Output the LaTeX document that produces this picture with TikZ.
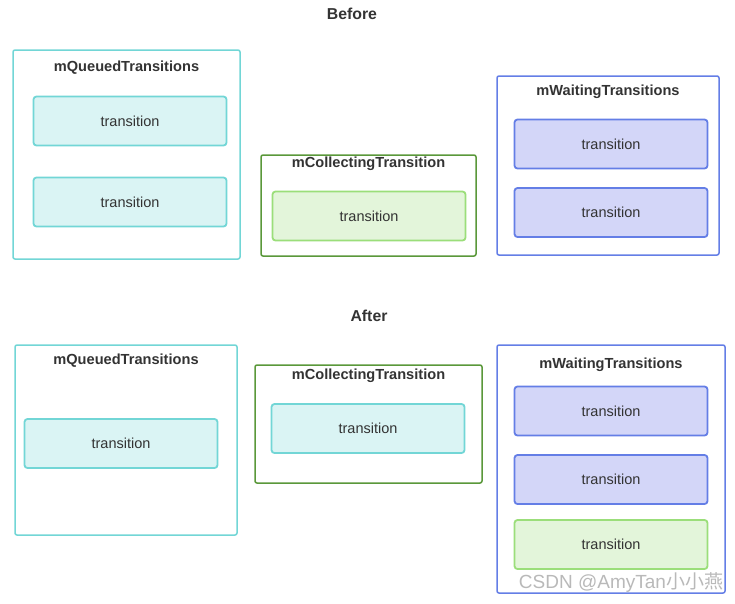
\documentclass[tikz,border=0pt]{standalone}
\usepackage{fontspec}
\setmainfont{Liberation Sans}
\newfontfamily\cjk{Noto Sans CJK SC}
\definecolor{tealline}{RGB}{114,214,214}
\definecolor{tealfill}{RGB}{218,244,244}
\definecolor{greenouter}{RGB}{90,152,58}
\definecolor{greenline}{RGB}{155,222,122}
\definecolor{greenfill}{RGB}{227,245,218}
\definecolor{blueline}{RGB}{100,126,230}
\definecolor{bluefill}{RGB}{211,214,248}
\definecolor{txt}{RGB}{51,51,51}
\tikzset{
  holder/.style={draw, rounded corners=2pt, line width=1.5pt, fill=white, inner sep=0pt},
  item/.style={draw, rounded corners=3pt, line width=1.8pt, inner sep=0pt,
    minimum width=193pt, minimum height=49pt, text=txt, font=\fontsize{14.5}{16}\selectfont},
  heading/.style={text=txt, font=\fontsize{14.6}{17}\selectfont\bfseries, inner sep=0pt},
  tealitem/.style={item, draw=tealline, fill=tealfill},
  greenitem/.style={item, draw=greenline, fill=greenfill},
  blueitem/.style={item, draw=blueline, fill=bluefill},
}
\begin{document}
\begin{tikzpicture}[x=1pt, y=-1pt]
\useasboundingbox (0,0) rectangle (735,603);

% before
\node[heading, font=\fontsize{15.8}{18}\selectfont\bfseries] (before) at (352,13.5) {Before};

\node[holder, draw=tealline, minimum width=227pt, minimum height=209pt] (queuedA) at (126.5,154.5) {};
\node[heading] (queuedAtitle) at (126.5,68) {mQueuedTransitions};
\node[tealitem] (queuedA1) at (130,121) {transition};
\node[tealitem] (queuedA2) at (130,202) {transition};

\node[holder, draw=greenouter, minimum width=215pt, minimum height=101pt] (collectA) at (368.5,205.5) {};
\node[heading] (collectAtitle) at (368.5,164) {mCollectingTransition};
\node[greenitem] (collectA1) at (369,216) {transition};

\node[holder, draw=blueline, minimum width=222pt, minimum height=179pt] (waitA) at (608,165.5) {};
\node[heading] (waitAtitle) at (608,92) {mWaitingTransitions};
\node[blueitem] (waitA1) at (611,144) {transition};
\node[blueitem] (waitA2) at (611,212.5) {transition};

% after
\node[heading, font=\fontsize{15.8}{18}\selectfont\bfseries] (after) at (369,315.5) {After};

\node[holder, draw=tealline, minimum width=222pt, minimum height=190pt] (queuedB) at (126,440) {};
\node[heading] (queuedBtitle) at (126,361) {mQueuedTransitions};
\node[tealitem] (queuedB1) at (121,443.5) {transition};

\node[holder, draw=greenouter, minimum width=227pt, minimum height=118pt] (collectB) at (368.5,424) {};
\node[heading] (collectBtitle) at (368.5,376) {mCollectingTransition};
\node[tealitem] (collectB1) at (368,428.5) {transition};

\node[holder, draw=blueline, minimum width=228pt, minimum height=248pt] (waitB) at (611,469) {};
\node[heading] (waitBtitle) at (611,365) {mWaitingTransitions};
\node[blueitem] (waitB1) at (611,411) {transition};
\node[blueitem] (waitB2) at (611,479.5) {transition};
\node[greenitem] (waitB3) at (611,544.5) {transition};

\node[text=gray!55, font=\fontsize{19}{20}\selectfont, inner sep=0pt] (mark) at (621,582)
  {CSDN @AmyTan{\cjk 小小燕}};

\end{tikzpicture}
\end{document}
